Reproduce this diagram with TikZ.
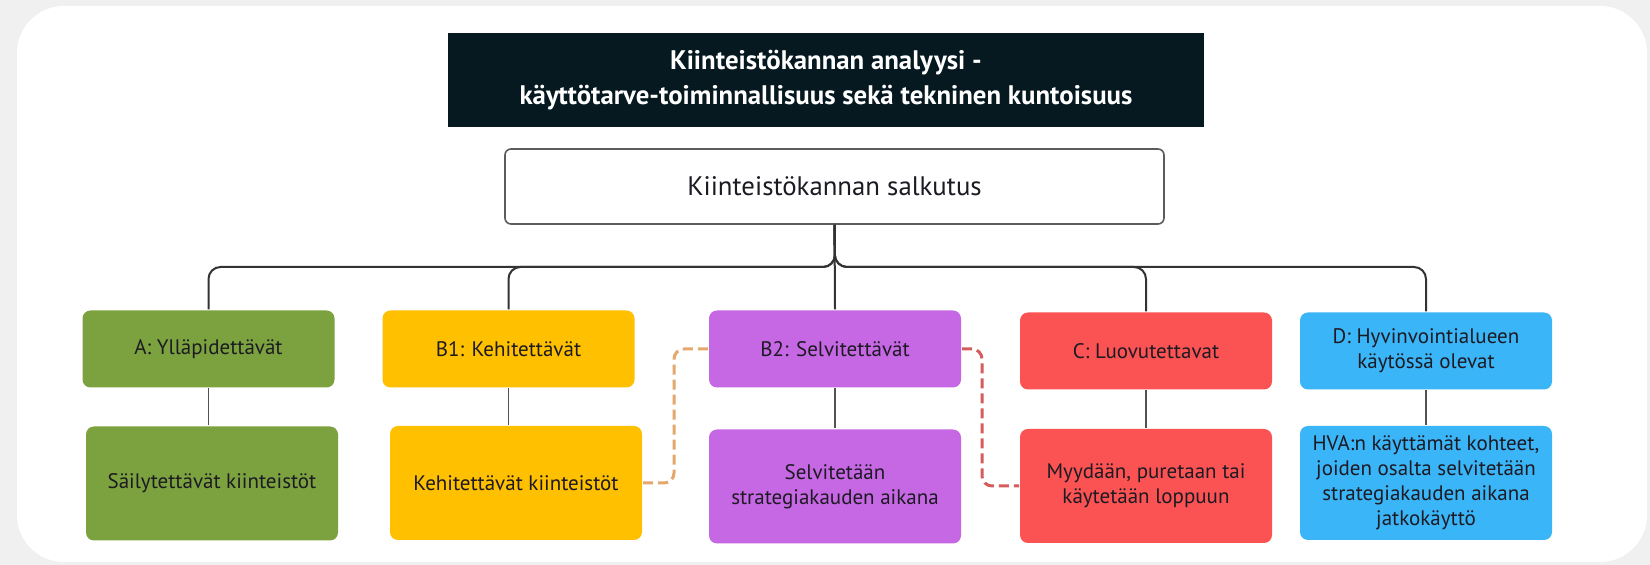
\documentclass[tikz,border=0pt]{standalone}
\usepackage{fontspec}
\setmainfont{PT Sans}
\usetikzlibrary{positioning, calc}
\definecolor{cink}{HTML}{061820}
\definecolor{cpanel}{HTML}{F0F0F0}
\definecolor{cline}{HTML}{333333}
\definecolor{cgreen}{HTML}{7BA23F}
\definecolor{cyellow}{HTML}{FFC000}
\definecolor{cpurple}{HTML}{C667E4}
\definecolor{cred}{HTML}{FB5353}
\definecolor{cblue}{HTML}{3AB5F8}
\definecolor{ctext}{HTML}{1C1A22}
\definecolor{ctan}{HTML}{E4A86C}
\definecolor{crose}{HTML}{D45C5C}
\tikzset{
  every picture/.style={line width=1pt},
  catbox/.style={fill=#1, rounded corners=4pt, align=center, text=ctext, inner sep=2pt,
    font=\fontsize{10.5}{12.5}\selectfont, minimum width=126pt, minimum height=38.5pt},
  subbox/.style={catbox=#1, minimum height=57pt},
  tree/.style={draw=cline, line width=1pt, rounded corners=6pt},
  stem/.style={draw=cline!85, line width=0.8pt},
  dashlink/.style={draw=#1, line width=1.5pt, dash pattern=on 5pt off 2.5pt, rounded corners=5pt},
}

\begin{document}
\begin{tikzpicture}[x=0.5pt, y=-0.5pt]
  \useasboundingbox (0,0) rectangle (1650,565);
  \fill[cpanel] (0,0) rectangle (1650,565);
  \fill[white, rounded corners=23.5pt] (17,6) rectangle (1647,562);
  % header
  \node[fill=cink, text=white, align=center, minimum width=378pt, minimum height=47pt,
    font=\bfseries\fontsize{13.4}{17.5}\selectfont] (head) at (826,80)
    {Kiinteistökannan analyysi -\\käyttötarve-toiminnallisuus sekä tekninen kuntoisuus};
  \node[draw=cline!80, line width=0.8pt, rounded corners=3pt, minimum width=329.5pt, minimum height=37.5pt,
    font=\fontsize{13.4}{16}\selectfont, text=ctext] (salk) at (834.5,186.5) {Kiinteistökannan salkutus};
  % categories
  \node[catbox=cgreen] (atop) at (208.5,349) {A: Ylläpidettävät};
  \node[catbox=cyellow] (b1top) at (508.5,349) {B1: Kehitettävät};
  \node[catbox=cpurple] (b2top) at (835,349) {B2: Selvitettävät};
  \node[catbox=cred] (ctop) at (1146,351) {C: Luovutettavat};
  \node[catbox=cblue] (dtop) at (1426,351) {D: Hyvinvointialueen\\käytössä olevat};
  \node[subbox=cgreen] (abot) at (212,483.5) {Säilytettävät kiinteistöt};
  \node[subbox=cyellow] (b1bot) at (516,483) {Kehitettävät kiinteistöt};
  \node[subbox=cpurple] (b2bot) at (835,486.5) {Selvitetään\\strategiakauden aikana};
  \node[subbox=cred] (cbot) at (1146,486) {Myydään, puretaan tai\\käytetään loppuun};
  \node[subbox=cblue] (dbot) at (1426,483) {HVA:n käyttämät kohteet,\\joiden osalta selvitetään\\strategiakauden aikana\\jatkokäyttö};
  % tree
  \coordinate (fork) at (835,267);
  \foreach \n in {atop, b1top, ctop, dtop}
    \draw[tree] (salk.south) -- (fork) -| (\n.north);
  \draw[tree] (salk.south) -- (b2top.north);
  \foreach \n/\m in {atop/abot, b1top/b1bot, b2top/b2bot, ctop/cbot, dtop/dbot}
    \draw[stem] (\n.south) -- (\n.south |- \m.north);
  % cross links
  \draw[dashlink=ctan] (b1bot.east) -- ++(31,0) |- (b2top.west);
  \draw[dashlink=crose] (b2top.east) -- ++(20,0) |- (cbot.west);
\end{tikzpicture}
\end{document}
